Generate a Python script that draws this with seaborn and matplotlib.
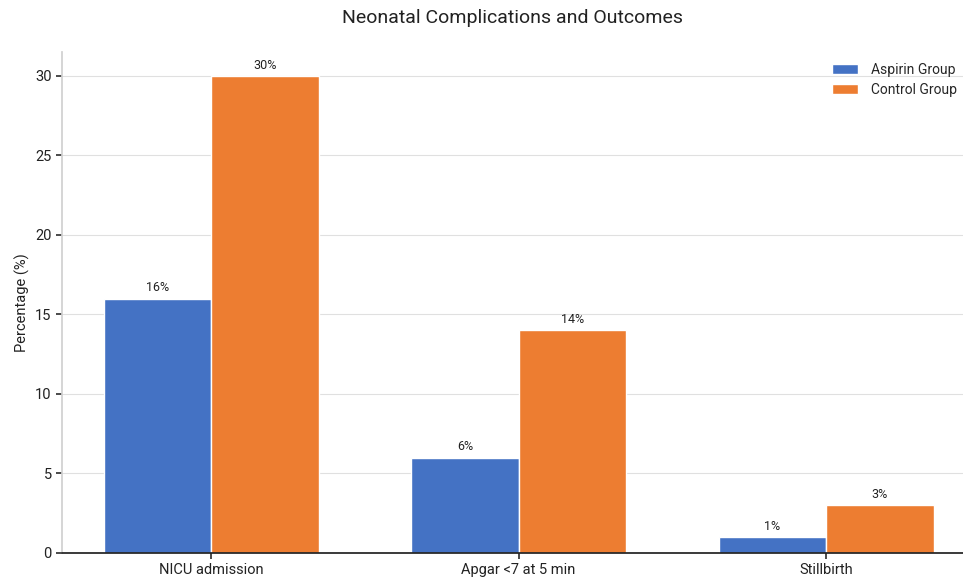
import matplotlib
matplotlib.use("Agg")
import matplotlib.pyplot as plt
import seaborn as sns
import pandas as pd

categories = ["NICU admission", "Apgar <7 at 5 min", "Stillbirth"]
aspirin = [16, 6, 1]
control = [30, 14, 3]
groups = ["Aspirin Group", "Control Group"]
colors = ["#4472C4", "#ED7D31"]

df = pd.DataFrame({
    "Outcome": categories * 2,
    "Percentage": aspirin + control,
    "Group": [groups[0]] * len(categories) + [groups[1]] * len(categories),
})

sns.set_theme(style="whitegrid")
plt.rcParams["font.family"] = ["Roboto", "DejaVu Sans"]

fig = plt.figure(figsize=(9.63, 5.78), dpi=100)
ax = fig.add_axes([0.0644, 0.0433, 0.9356, 0.8667])

sns.barplot(data=df, x="Outcome", y="Percentage", hue="Group",
            palette=colors, width=0.7, edgecolor="white", linewidth=1,
            saturation=1, ax=ax)

for cont in ax.containers:
    ax.bar_label(cont, fmt="%g%%", padding=3, fontsize=9, color="#222222")

ax.set_xlim(-0.485, 2.445)
ax.set_ylim(0, 31.5)
ax.set_yticks([0, 5, 10, 15, 20, 25, 30])
ax.set_xlabel("")
ax.set_ylabel("Percentage (%)", fontsize=10.5, color="#222222")
ax.set_title("Neonatal Complications and Outcomes", fontsize=14, pad=21, color="#222222")

ax.grid(axis="y", color="#e0e0e0", linewidth=0.8)
ax.grid(axis="x", visible=False)
ax.set_facecolor("white")
for side in ["top", "right"]:
    ax.spines[side].set_visible(False)
ax.spines["left"].set_color("#d0d0d0")
ax.spines["bottom"].set_color("#222222")
ax.tick_params(axis="both", which="both", length=4, color="#333333",
               labelsize=10.5, labelcolor="#222222", left=True, bottom=True)

ax.legend(loc="upper right", frameon=False, fontsize=10, title=None,
          handlelength=1.9, handleheight=0.7, handletextpad=0.95,
          labelspacing=0.45, borderaxespad=0.0, bbox_to_anchor=(1.0, 0.99))

fig.savefig("out.png", dpi=100)
